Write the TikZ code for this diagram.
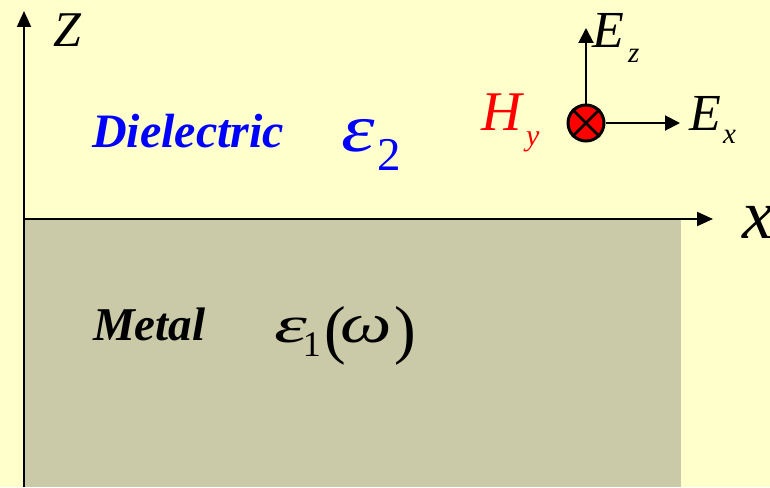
\documentclass[tikz,border=0pt]{standalone}
\usepackage{fontspec}
\usepackage{graphicx}
\setmainfont{Liberation Serif}
\usetikzlibrary{arrows.meta}
\definecolor{bgyellow}{RGB}{255,255,204}
\definecolor{metalgray}{RGB}{203,202,168}
\newcommand{\fsz}[1]{\fontsize{#1}{#1}\selectfont}
\begin{document}
\begin{tikzpicture}[x=1pt, y=-1pt,
                    every node/.style={inner sep=0pt, anchor=base west},
                    axis/.style={line width=2pt, -{Triangle[length=16pt,width=14pt]}},
                    field/.style={line width=2pt, -{Triangle[length=15pt,width=15pt]}}
                    ]
                    \useasboundingbox (0,0) rectangle (770,487);
                    \fill[bgyellow] (0,0) rectangle (770,487);
                    \fill[metalgray] (24,219) rectangle (681,487);

                    \coordinate (o) at (24,219);
                    \coordinate (zend) at (24,11);
                    \coordinate (zstart) at (24,487);
                    \coordinate (xend) at (713,219);
                    \draw[axis] (zstart) -- (zend);
                    \draw[axis] (o) -- (xend);

                    \node (zlab) at (53,46) {\fsz{50}\itshape Z};
                    \node (xlab) at (742,238) {\fsz{70}\itshape x};

                    \node[text=blue] (diel) at (92,147) {\fsz{48}\bfseries\itshape Dielectric};
                    \node[text=blue] (eps2) at (341,151) {\scalebox{1.25}[1]{\fsz{68}\itshape ε}};
                    \node[text=blue] (eps2sub) at (377,170) {\fsz{47}2};

                    \node (metal) at (93,340) {\fsz{47}\bfseries\itshape Metal};
                    \node (eps1) at (274,342) {\scalebox{1.6}[1]{\fsz{52}\itshape ε}\kern-4pt\raisebox{-14pt}{\fsz{36}1}};
                    \node (lpar) at (324,351) {\fsz{65}(};
                    \node (omega) at (340,342) {\scalebox{1.3}[1]{\fsz{56}\itshape ω}};
                    \node (rpar) at (394,351) {\fsz{65})};

                    \node[text=red] (hlab) at (481,130) {\fsz{56}\itshape H};
                    \node[text=red] (hsub) at (526,145) {\fsz{30}\itshape y};
                    \node[draw, circle, fill=red, line width=3pt, minimum size=36pt, anchor=center] (hy) at (586,123) {};
                    \draw[line width=2.5pt] (hy.45) -- (hy.225) (hy.135) -- (hy.315);

                    \coordinate (eztip) at (586,28);
                    \coordinate (extip) at (680,123);
                    \draw[field] (hy.north) -- (eztip);
                    \draw[field] (hy.east) -- (extip);
                    \node (ezlab) at (592,48) {\fsz{52}\itshape E};
                    \node (ezsub) at (628,63) {\fsz{29}\itshape z};
                    \node (exlab) at (689,130) {\fsz{52}\itshape E};
                    \node (exsub) at (723,143) {\fsz{29}\itshape x};
                \end{tikzpicture}
\end{document}
